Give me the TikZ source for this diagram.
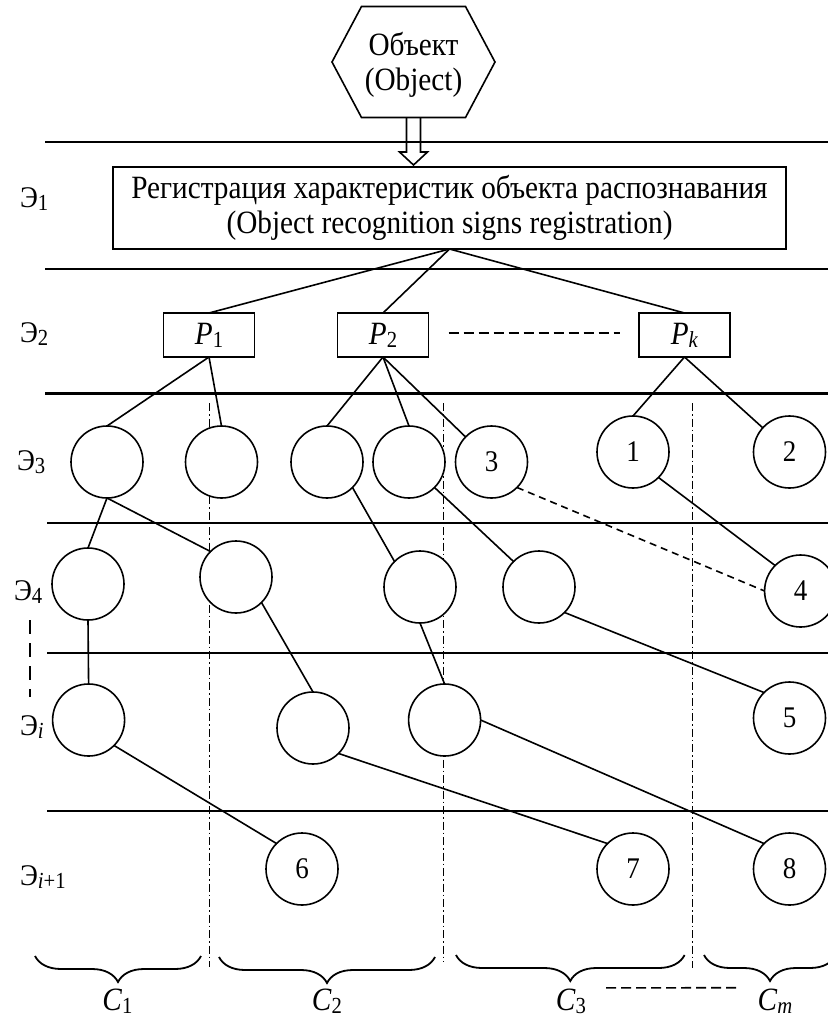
\documentclass[tikz,border=0pt]{standalone}
\usepackage{fontspec}
\setmainfont[FakeStretch=0.9]{Liberation Serif}
\usetikzlibrary{decorations.pathreplacing,calc}
\newcommand\sbs[1]{\raisebox{-3pt}{\fontsize{23}{23}\selectfont #1}}
\begin{document}
\begin{tikzpicture}[x=1pt,y=-1pt,
  every node/.style={inner sep=0pt, outer sep=0pt, font=\fontsize{32.5}{34.5}\selectfont},
  ln/.style={line width=1.6pt},
  hline/.style={line width=2.2pt},
  vsep/.style={line width=1.3pt, dash pattern=on 8pt off 3pt on 1.5pt off 3pt},
  nd/.style={circle, draw, line width=1.6pt, fill=white, minimum size=72pt, font=\fontsize{30}{30}\selectfont},
  pbox/.style={draw, line width=1.6pt, minimum width=91pt, minimum height=44pt},
  lvl/.style={anchor=base west, font=\fontsize{30}{30}\selectfont},
  brc/.style={decorate, decoration={brace, amplitude=26pt}, line width=1.8pt},
  dsh/.style={line width=1.6pt, dash pattern=on 10pt off 5pt},
]
\useasboundingbox (0,0) rectangle (827,1017);

% level separators
\foreach \yy/\xx in {141.7/45, 269/45, 393.5/45, 522.7/47, 653/47, 811/47}
  \draw[hline] (\xx,\yy) -- (832,\yy);

% class separators (behind the circles)
\draw[vsep] (209.5,403) -- (209.5,967);
\draw[vsep] (443.5,403) -- (443.5,962);
\draw[vsep] (692.5,403) -- (692.5,968);

% object
\node[minimum width=163pt, minimum height=111pt] (obj) at (413.5,62) {};
\node[align=center] (objtxt) at (413.5,65) {Объект\\(Object)};
\draw[ln] (obj.west) -- ($(obj.north)+(-52,0)$) -- ($(obj.north)+(52,0)$) -- (obj.east)
  -- ($(obj.south)+(52,0)$) -- ($(obj.south)+(-52,0)$) -- cycle;

% registration box
\node[draw, ln, minimum width=673pt, minimum height=82pt, align=center] (reg) at (449.5,208)
  {Регистрация характеристик объекта распознавания\\(Object recognition signs registration)};

% hollow arrow
\coordinate (tip) at ($(obj.south |- reg.north)+(0,-2)$);
\draw[ln] ($(obj.south)+(-7,0)$) -- ($(tip)+(-7,-13)$) -- ($(tip)+(-14,-13)$) -- (tip)
  -- ($(tip)+(14,-13)$) -- ($(tip)+(7,-13)$) -- ($(obj.south)+(7,0)$);

% P boxes
\node[pbox] (p1) at (209,335) {\textit{P}\sbs{1}};
\node[pbox] (p2) at (383,335) {\textit{P}\sbs{2}};
\node[pbox] (pk) at (684.5,335) {\textit{P}\sbs{\textit{k}}};
\draw[dsh] ($(p2.east)+(20,-2)$) -- ($(pk.west)+(-19,-2)$);
\draw[ln] (reg.south) -- (p1.north);
\draw[ln] (reg.south) -- (p2.north);
\draw[ln] (reg.south) -- (pk.north);

% circles
\node[nd] (a3) at (107,462) {};
\node[nd] (b3) at (221.5,462) {};
\node[nd] (c3) at (327,462) {};
\node[nd] (d3) at (409,462) {};
\node[nd] (n3) at (491.5,462) {3};
\node[nd] (n1) at (633,452) {1};
\node[nd] (n2) at (789.5,452) {2};
\node[nd] (a4) at (88,584) {};
\node[nd] (b4) at (236,577) {};
\node[nd] (c4) at (420,587) {};
\node[nd] (e4) at (539,587) {};
\node[nd] (n4) at (800.6,591) {4};
\node[nd] (ai) at (88.6,720) {};
\node[nd] (bi) at (313,728) {};
\node[nd] (ci) at (444.6,720) {};
\node[nd] (n5) at (789.5,718) {5};
\node[nd] (n6) at (302,869) {6};
\node[nd] (n7) at (633,869) {7};
\node[nd] (n8) at (789.5,869) {8};

% edges
\draw[ln] (p1.south) -- (a3.north);
\draw[ln] (p1.south) -- (b3.north);
\draw[ln] (p2.south) -- (c3.north);
\draw[ln] (p2.south) -- (d3.north);
\draw[ln] (p2.south) -- (n3);
\draw[ln] (pk.south) -- (n1.north);
\draw[ln] (pk.south) -- (n2);
\draw[ln] (a3.south) -- (a4.north);
\draw[ln] (a3.south) -- (b4.135);
\draw[ln] (c3.-45) -- (c4.135);
\draw[ln] (d3.-45) -- (e4.135);
\draw[ln, dash pattern=on 7pt off 5pt] (n3.-45) -- (n4.west);
\draw[ln] (n1.-45) -- (n4.135);
\draw[ln] (a4.south) -- (ai.north);
\draw[ln] (b4.-45) -- (bi.north);
\draw[ln] (c4.south) -- (ci.north);
\draw[ln] (e4.-45) -- (n5.135);
\draw[ln] (ai.-45) -- (n6.135);
\draw[ln] (bi.-45) -- (n7.135);
\draw[ln] (ci.east) -- (n8.135);

% level labels
\node[lvl] (l1) at (20,207) {Э\sbs{1}};
\node[lvl] (l2) at (20,342) {Э\sbs{2}};
\node[lvl] (l3) at (17,470) {Э\sbs{3}};
\node[lvl] (l4) at (14,600) {Э\sbs{4}};
\node[lvl] (li) at (20,735) {Э\sbs{\textit{i}}};
\node[lvl] (li1) at (20,885) {Э\sbs{\textit{i}+1}};
\draw[ln, dash pattern=on 14pt off 9pt] (30,620) -- (30,697);

% class braces
\draw[brc] (201,956) -- (35,956);
\draw[brc] (435,957) -- (219,957);
\draw[brc] (684.6,955) -- (456,955);
\draw[brc] (836,955) -- (704,955);
\node[anchor=base] (k1) at (117.5,1010) {\textit{C}\sbs{1}};
\node[anchor=base] (k2) at (327,1010) {\textit{C}\sbs{2}};
\node[anchor=base] (k3) at (571,1010) {\textit{C}\sbs{3}};
\node[anchor=base] (km) at (775,1010) {\textit{C}\sbs{\textit{m}}};
\draw[dsh] ($(k3.east)+(20,-13)$) -- ($(km.west)+(-18,-13)$);
\end{tikzpicture}
\end{document}
